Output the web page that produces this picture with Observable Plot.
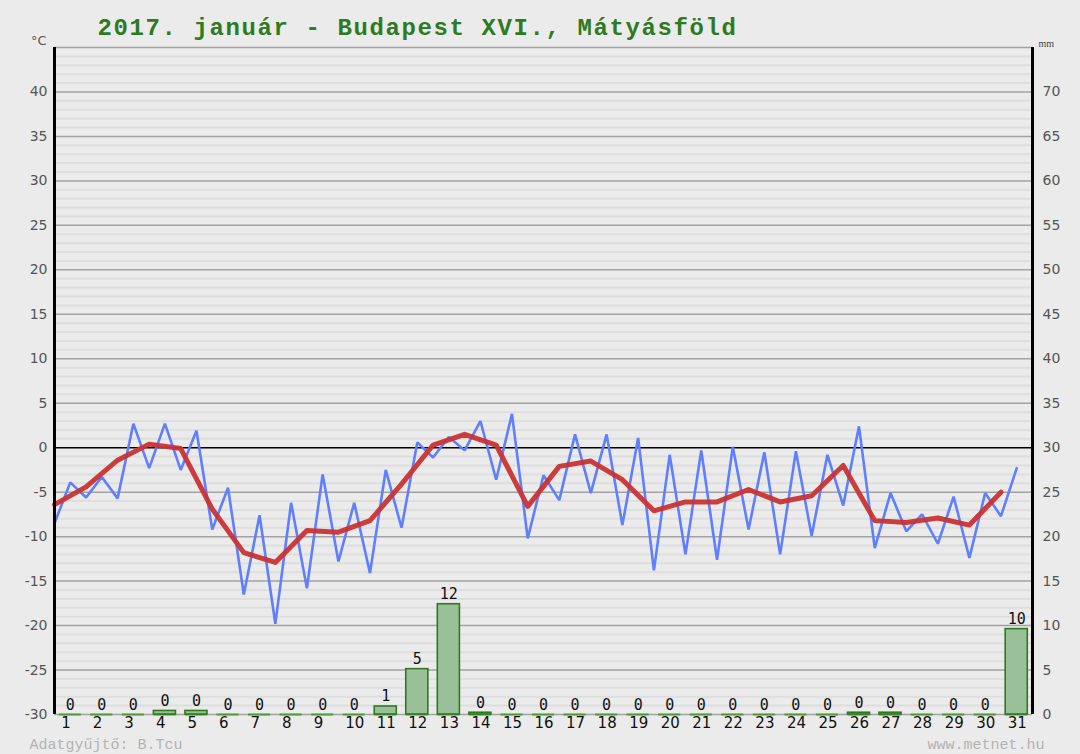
<!DOCTYPE html>
<html><head><meta charset="utf-8">
<script src="https://cdn.jsdelivr.net/npm/d3@7"></script>
<script src="https://cdn.jsdelivr.net/npm/@observablehq/plot@0.6"></script>
<style>
html,body{margin:0;padding:0;background:#ebebeb;}
#chart{width:1080px;height:754px;}
</style></head><body><div id="chart"></div>
<script>
const title = "2017. január - Budapest XVI., Mátyásföld";
const footerLeft = "Adatgyűjtő: B.Tcu";
const footerRight = "www.metnet.hu";
const days = [1,2,3,4,5,6,7,8,9,10,11,12,13,14,15,16,17,18,19,20,21,22,23,24,25,26,27,28,29,30,31];
// daily minimum temperature (°C)
const tMin = [-8.5,-5.6,-5.7,-2.3,-2.5,-9.2,-16.5,-19.8,-15.8,-12.8,-14.1,-9.0,-1.1,-0.3,-3.6,-10.2,-5.9,-5.1,-8.7,-13.8,-12.0,-12.6,-9.2,-12.0,-9.9,-6.5,-11.3,-9.4,-10.8,-12.4,-7.7];
// daily maximum temperature (°C)
const tMax = [-3.9,-3.3,2.7,2.7,1.9,-4.5,-7.6,-6.2,-3.0,-6.2,-2.5,0.6,1.2,3.0,3.8,-3.1,1.5,1.5,1.1,-0.8,-0.3,0.1,-0.5,-0.4,-0.8,2.4,-5.1,-7.5,-5.5,-5.1,-2.3];
// daily mean temperature (°C)
const tMean = [-6.4,-4.4,-1.4,0.4,-0.1,-6.9,-11.8,-12.9,-9.3,-9.5,-8.2,-4.1,0.3,1.5,0.3,-6.6,-2.1,-1.5,-3.6,-7.1,-6.1,-6.1,-4.7,-6.1,-5.4,-2.0,-8.2,-8.4,-7.9,-8.7,-5.0];
// daily precipitation (mm)
const precip = [0,0,0,0.4,0.4,0,0,0,0,0,0.9,5.1,12.4,0.2,0,0,0,0,0,0,0,0,0,0,0,0.2,0.2,0,0,0,9.6];
const tempTicks = [-30,-25,-20,-15,-10,-5,0,5,10,15,20,25,30,35,40];
const xDomain = [0.5, 31.5];
const yDomain = [-30, 45];
const mmOffset = 30; // mm = °C + 30

const blueData = [];
days.forEach((d, i) => {
  blueData.push({x: d - 0.5, t: tMin[i]});
  blueData.push({x: d, t: tMax[i]});
});
const redData = days.map((d, i) => ({x: d - 0.5, t: tMean[i]}));
const pData = days.map((d, i) => ({day: d, mm: precip[i]}));
const minorTicks = d3.range(yDomain[0] + 1, yDomain[1]).filter(v => v % 5 !== 0);
const majorGrid = d3.range(yDomain[0], yDomain[1] + 1, 5).filter(v => v !== 0);

const plot = Plot.plot({
  width: 1080,
  height: 754,
  marginTop: 47,
  marginLeft: 54,
  marginRight: 48,
  marginBottom: 40,
  style: {background: "#ebebeb", fontFamily: "DejaVu Sans"},
  x: {domain: xDomain, axis: null, label: null},
  y: {domain: yDomain, axis: null, label: null},
  marks: [
    Plot.ruleY(minorTicks, {stroke: "#dedede", strokeWidth: 2}),
    Plot.ruleY(majorGrid, {stroke: "#a2a2a2", strokeWidth: 1.5}),
    Plot.ruleY([0], {stroke: "#000", strokeWidth: 1.6}),
    Plot.ruleY(pData, {y: yDomain[0], x1: d => d.day - 0.35, x2: d => d.day + 0.35, stroke: "#4f9a35", strokeWidth: 2}),
    Plot.rect(pData.filter(d => d.mm > 0), {x1: d => d.day - 0.35, x2: d => d.day + 0.35, y1: yDomain[0], y2: d => d.mm - mmOffset, fill: "#9ac09a", stroke: "#2f7a1c", strokeWidth: 1.6}),
    Plot.text(pData, {x: "day", y: d => d.mm - mmOffset, text: d => String(Math.round(d.mm)), lineAnchor: "bottom", dy: -5, fontSize: 15, fill: "#111", fontFamily: "DejaVu Sans Mono"}),
    Plot.line(blueData, {x: "x", y: "t", stroke: "#5f7fff", strokeWidth: 2.6, strokeLinejoin: "miter"}),
    Plot.line(redData, {x: "x", y: "t", stroke: "#c93333", strokeWidth: 5, strokeOpacity: 0.95}),
    Plot.ruleX(xDomain, {stroke: "#000", strokeWidth: 3}),
    Plot.axisY(tempTicks, {anchor: "left", label: null, tickSize: 0, tickPadding: 7, fontSize: 14, fill: "#555", tickFormat: d => String(d)}),
    Plot.axisY(tempTicks, {anchor: "right", label: null, tickSize: 0, tickPadding: 10, fontSize: 14, fill: "#555", tickFormat: d => String(d + mmOffset)}),
    Plot.axisX(days, {anchor: "bottom", label: null, tickSize: 0, tickPadding: 3, fontSize: 15, fill: "#111", textAnchor: "start", dx: -9}),
    Plot.text(["°C"], {frameAnchor: "top-left", textAnchor: "end", lineAnchor: "middle", dx: -8, dy: -7, fontSize: 13, fill: "#555"}),
    Plot.text(["mm"], {frameAnchor: "top-right", textAnchor: "start", lineAnchor: "middle", dx: 6, dy: -4, fontSize: 10, fill: "#444", fontFamily: "Liberation Serif"}),
    Plot.text([title], {frameAnchor: "top-left", textAnchor: "start", lineAnchor: "middle", dx: 43, dy: -20, fontSize: 24, fontWeight: "bold", fill: "#2e7a1f", fontFamily: "Liberation Mono"}),
    Plot.text([footerLeft], {frameAnchor: "bottom-left", textAnchor: "start", lineAnchor: "middle", dx: -25, dy: 30, fontSize: 15, fill: "#b3b3b3", fontFamily: "Liberation Mono"}),
    Plot.text([footerRight], {frameAnchor: "bottom-right", textAnchor: "end", lineAnchor: "middle", dx: 12, dy: 30, fontSize: 15, fill: "#b3b3b3", fontFamily: "Liberation Mono"})
  ]
});
d3.select(plot).selectAll("text").filter(function() { return this.textContent === title; }).attr("letter-spacing", "1.6px");
document.getElementById("chart").appendChild(plot);
</script>
</body></html>
